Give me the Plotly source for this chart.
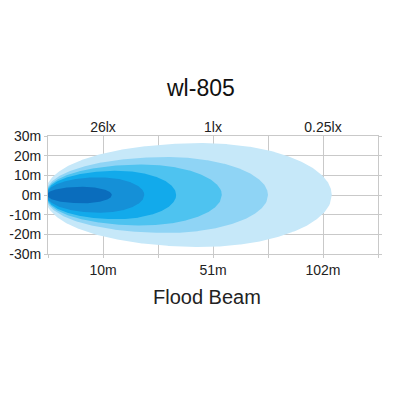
import numpy as np
import plotly.graph_objects as go

# ---- data ----
title_text = "wl-805"
subtitle_text = "Flood Beam"
x_positions = [0, 1, 2, 3, 4, 5, 6]
distance_labels = ["", "10m", "", "51m", "", "102m", ""]
lux_labels = ["", "26lx", "", "1lx", "", "0.25lx", ""]
y_ticks = [30, 20, 10, 0, -10, -20, -30]
y_labels = ["30m", "20m", "10m", "0m", "-10m", "-20m", "-30m"]

# beam layers (outer -> inner): reach in chart units, max half-width in metres
beam_reach = [5.16, 4.0, 3.16, 2.33, 1.75, 1.16]
beam_halfwidth = [26.4, 19.3, 15.5, 12.3, 9.0, 4.2]
beam_colors = ["#c6e8f9", "#8fd4f5", "#4ec3f0", "#12aaeb", "#1590d7", "#0a6dbd"]
peak_frac = 0.54

fig = go.Figure()

for L, W, col in zip(beam_reach, beam_halfwidth, beam_colors):
    c = peak_frac * L
    aL = c * 1.02
    aR = L - c
    xs = np.linspace(0, L, 300)
    left = xs < c
    a = np.where(left, aL, aR)
    p = np.where(left, 0.45, 0.5)
    w = W * np.clip(1 - ((xs - c) / a) ** 2, 0, 1) ** p
    px = np.concatenate([xs, xs[::-1]])
    py = np.concatenate([w, -w[::-1]])
    fig.add_trace(go.Scatter(x=px, y=py, mode="lines", fill="toself",
                             fillcolor=col, line=dict(width=0, color=col),
                             hoverinfo="skip", showlegend=False))

# invisible trace to activate top axis
fig.add_trace(go.Scatter(x=[0, 6], y=[0, 0], xaxis="x2", mode="markers",
                         marker=dict(opacity=0), showlegend=False, hoverinfo="skip"))

font = "Liberation Sans, Arial, sans-serif"
grid = "#c9c9c9"
tick_font = dict(size=14, family=font, color="#222222")
fig.update_layout(
    width=392, height=392,
    margin=dict(l=40, r=22, t=128, b=146, autoexpand=False),
    paper_bgcolor="white", plot_bgcolor="white",
    font=dict(family=font, color="#222222", size=14),
    xaxis=dict(range=[0, 6], tickvals=x_positions, ticktext=distance_labels,
               showgrid=True, gridcolor=grid, gridwidth=1, zeroline=False,
               showline=True, linecolor=grid, linewidth=1, mirror=True,
               ticks="outside", ticklen=3, tickcolor=grid, tickfont=tick_font),
    xaxis2=dict(range=[0, 6], overlaying="x", side="top", tickvals=x_positions,
                ticktext=lux_labels, showgrid=False, zeroline=False, showline=False,
                ticks="", tickfont=tick_font),
    yaxis=dict(range=[-30, 30], tickvals=y_ticks, ticktext=y_labels,
               showgrid=True, gridcolor=grid, gridwidth=1, zeroline=False,
               showline=True, linecolor=grid, linewidth=1, mirror="ticks",
               ticks="outside", ticklen=3, tickcolor=grid, tickfont=tick_font),
    annotations=[
        dict(text=title_text, xref="paper", yref="paper", x=0.5, y=1,
             xanchor="center", yanchor="middle", xshift=-13, yshift=48,
             showarrow=False, font=dict(size=23, family=font, color="#111111")),
        dict(text=subtitle_text, xref="paper", yref="paper", x=0.5, y=0,
             xanchor="center", yanchor="middle", xshift=-6, yshift=-43,
             showarrow=False, font=dict(size=20, family=font, color="#222222")),
    ],
)

fig.write_html("out.html")
